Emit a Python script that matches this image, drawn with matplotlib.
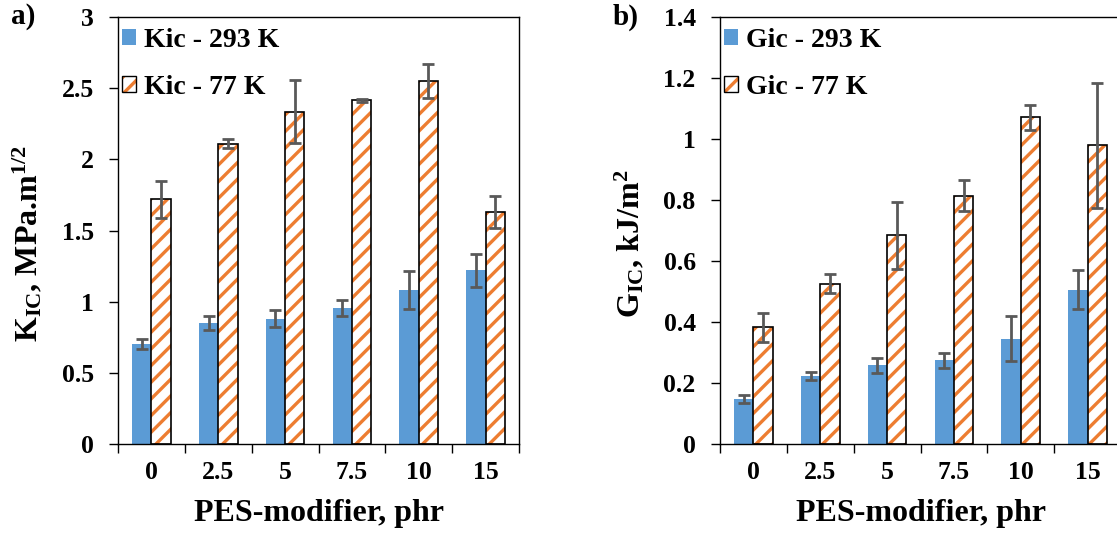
import matplotlib
matplotlib.use('Agg')
import matplotlib.pyplot as plt
from matplotlib.patches import Patch
from matplotlib.legend_handler import HandlerTuple
from matplotlib.ticker import FuncFormatter, FixedLocator
import numpy as np

plt.rcParams['font.family'] = ['Liberation Serif', 'DejaVu Serif']
plt.rcParams['font.weight'] = 'bold'
plt.rcParams['axes.labelweight'] = 'bold'
plt.rcParams['mathtext.fontset'] = 'custom'
plt.rcParams['mathtext.rm'] = 'Liberation Serif:bold'
plt.rcParams['mathtext.it'] = 'Liberation Serif:bold'
plt.rcParams['mathtext.bf'] = 'Liberation Serif:bold'
plt.rcParams['mathtext.default'] = 'rm'
plt.rcParams['hatch.linewidth'] = 2.4

categorias = ['0', '2.5', '5', '7.5', '10', '15']

kic_293 = [0.70, 0.85, 0.88, 0.955, 1.08, 1.22]
kic_293_err = [0.035, 0.05, 0.06, 0.055, 0.135, 0.115]
kic_77 = [1.72, 2.11, 2.335, 2.415, 2.55, 1.63]
kic_77_err = [0.13, 0.03, 0.22, 0.01, 0.12, 0.11]

gic_293 = [0.147, 0.223, 0.258, 0.274, 0.345, 0.506]
gic_293_err = [0.013, 0.014, 0.024, 0.025, 0.074, 0.063]
gic_77 = [0.383, 0.526, 0.685, 0.814, 1.071, 0.979]
gic_77_err = [0.047, 0.032, 0.11, 0.05, 0.04, 0.204]

AZUL = '#5B9BD5'
NARANJA = '#ED7D31'
GRIS = '#595959'
ANCHO = 0.29
FS_TICK = 18.5
FS_LEYENDA = 20
FS_EJE = 23


def panel(ax, v293, e293, v77, e77, ymax, paso, ylabel, etiquetas, letra):
    x = np.arange(len(categorias))
    ax.bar(x - ANCHO / 2, v293, ANCHO, color=AZUL, zorder=2)
    ax.bar(x + ANCHO / 2, v77, ANCHO, color='white', edgecolor=NARANJA,
           hatch='//', linewidth=0, zorder=2)
    ax.bar(x + ANCHO / 2, v77, ANCHO, fill=False, edgecolor='black',
           linewidth=1.2, zorder=3)
    ax.errorbar(x - ANCHO / 2, v293, yerr=e293, fmt='none', ecolor=GRIS,
                elinewidth=2, capsize=4.5, capthick=2, zorder=4)
    ax.errorbar(x + ANCHO / 2, v77, yerr=e77, fmt='none', ecolor=GRIS,
                elinewidth=2, capsize=4.5, capthick=2, zorder=4)

    ax.set_xlim(-0.5, len(categorias) - 0.5)
    ax.set_ylim(0, ymax)
    ax.set_yticks(np.arange(0, ymax + paso / 2, paso))
    ax.yaxis.set_major_formatter(FuncFormatter(lambda v, p: '%g' % round(v, 2)))
    ax.set_xticks(x)
    ax.set_xticklabels(categorias)
    ax.xaxis.set_minor_locator(FixedLocator(np.arange(-0.5, len(categorias), 1)))
    ax.tick_params(axis='x', which='major', length=0, pad=12, labelsize=FS_TICK)
    ax.tick_params(axis='x', which='minor', length=6.5, direction='out', width=1)
    ax.tick_params(axis='y', length=6.5, direction='out', width=1, pad=11,
                   labelsize=FS_TICK)
    for s in ax.spines.values():
        s.set_linewidth(1)

    ax.set_xlabel('PES-modifier, phr', fontsize=FS_EJE, labelpad=11)
    ax.set_ylabel(ylabel, fontsize=FS_EJE)
    ax.yaxis.set_label_coords(-0.184, 0.47)

    h1 = Patch(facecolor=AZUL, edgecolor='none')
    h2a = Patch(facecolor='white', edgecolor=NARANJA, hatch='//', linewidth=0)
    h2b = Patch(fill=False, edgecolor='black', linewidth=1)
    ax.legend([h1, (h2a, h2b)], etiquetas, loc='upper left', frameon=False,
              fontsize=FS_LEYENDA, handlelength=0.5, handleheight=0.5,
              handletextpad=0.3, labelspacing=0.8, borderaxespad=0,
              borderpad=0.15, bbox_to_anchor=(0.0, 0.985),
              handler_map={tuple: HandlerTuple(ndivide=1, pad=0)})
    ax.text(-0.268, 1.0, letra, transform=ax.transAxes, fontsize=21,
            ha='left', va='center')


fig = plt.figure(figsize=(11.17, 5.39), dpi=100)
ax1 = fig.add_axes([118 / 1117, 95 / 539, 401 / 1117, 427 / 539])
ax2 = fig.add_axes([720 / 1117, 95 / 539, 401 / 1117, 427 / 539])

panel(ax1, kic_293, kic_293_err, kic_77, kic_77_err, 3, 0.5,
      'K$_{IC}$, MPa.m$^{1/2}$', ['Kic - 293 K', 'Kic - 77 K'], 'a)')
panel(ax2, gic_293, gic_293_err, gic_77, gic_77_err, 1.4, 0.2,
      'G$_{IC}$, kJ/m$^{2}$', ['Gic - 293 K', 'Gic - 77 K'], 'b)')

fig.savefig('out.png', dpi=100)
plt.close()
